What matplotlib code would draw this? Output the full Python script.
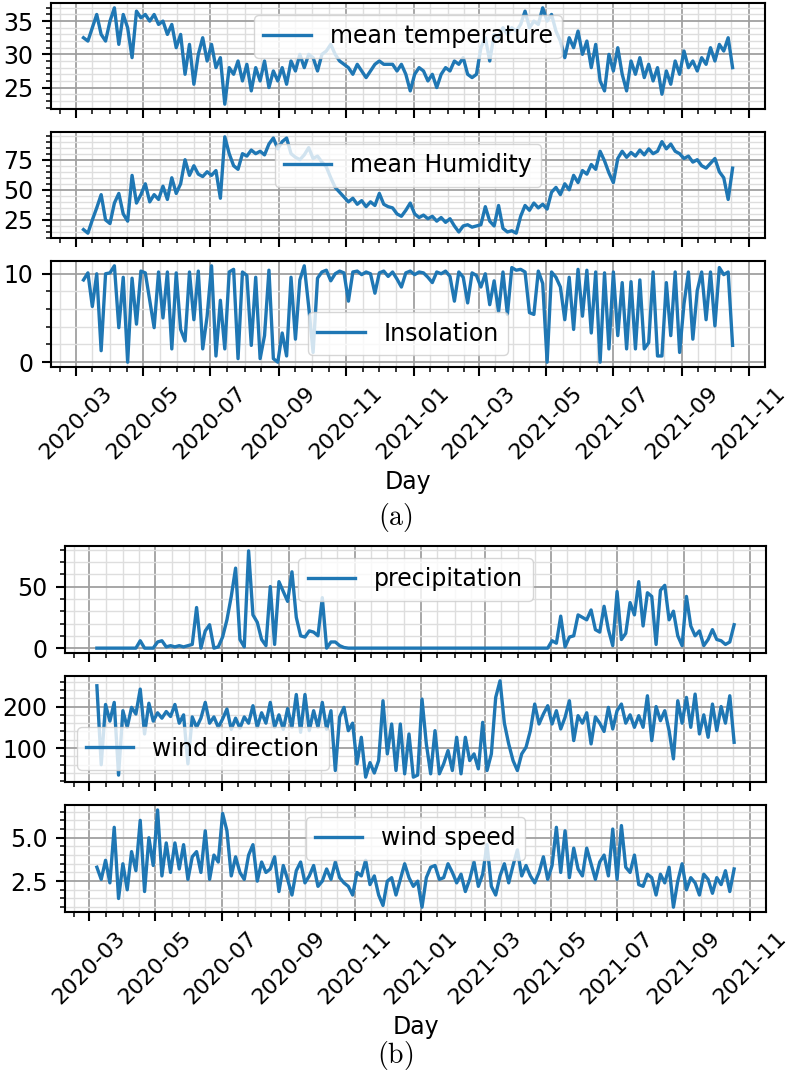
import matplotlib
matplotlib.use('Agg')
import matplotlib.pyplot as plt
import matplotlib.dates as mdates
from matplotlib.ticker import MultipleLocator, AutoMinorLocator
import pandas as pd

# values, one every 4 days from 2020-03-08
days = pd.date_range('2020-03-08', periods=148, freq='4D')

mean_temperature = [
    32.5, 32, 34, 36, 33, 32, 35, 37, 31.5, 36,
    34, 29.5, 36.5, 35.5, 36, 35, 36, 34.5, 35, 33,
    34.5, 31, 33, 27, 31.5, 25.5, 30, 32.5, 29, 31.5,
    28, 29.5, 22.5, 28, 27, 29, 26, 28.5, 24.5, 28,
    26, 29, 25, 27.5, 26, 28, 25.5, 29, 27.5, 30,
    28, 30, 29.5, 27.5, 30, 30.5, 31.5, 30, 29, 28.5,
    28, 27, 28.5, 27.5, 26.5, 27.5, 28.5, 29, 28.5, 28.5,
    28.5, 27.5, 28.5, 27, 24.5, 27, 28, 27.5, 26, 27,
    25, 27, 28, 27.5, 29, 28.5, 29.5, 27, 26.5, 27,
    31, 32.5, 29, 33, 32.5, 34, 33, 34, 33.5, 34.5,
    36.5, 34, 35, 34.5, 37, 35, 36, 33.5, 32, 29.5,
    32.5, 31, 33.5, 30, 32, 28, 31.5, 26, 24.5, 30,
    27.5, 31, 27, 24.5, 29, 27, 29.5, 26.5, 28.5, 26,
    28, 24, 27.5, 25.5, 29, 27, 30.5, 28, 29, 27.5,
    29.5, 28.5, 31, 29, 31.5, 30.5, 32.5, 28]

mean_humidity = [
    17, 14, 25, 35, 46, 25, 22, 39, 47, 30,
    24, 62, 39, 46, 55, 40, 46, 42, 53, 42,
    60, 47, 55, 75, 62, 70, 63, 61, 65, 62,
    66, 43, 94, 80, 70, 67, 80, 78, 83, 80,
    82, 79, 88, 93, 84, 90, 93, 80, 77, 75,
    79, 85, 76, 78, 73, 69, 60, 52, 48, 44,
    40, 43, 38, 41, 36, 40, 37, 47, 38, 36,
    35, 30, 28, 33, 39, 30, 27, 29, 26, 28,
    24, 27, 23, 26, 20, 15, 20, 21, 19, 20,
    21, 36, 24, 20, 37, 18, 15, 16, 14, 28,
    37, 33, 39, 35, 38, 34, 48, 52, 46, 55,
    50, 62, 56, 66, 63, 71, 67, 82, 74, 64,
    56, 76, 82, 77, 81, 78, 83, 79, 84, 80,
    82, 90, 84, 88, 82, 80, 76, 78, 73, 75,
    70, 68, 72, 76, 65, 60, 42, 68]

insolation = [
    9.3, 10.1, 6.3, 10, 1.3, 10, 10.1, 10.9, 3.9, 9.6,
    0, 9.5, 4.3, 10.3, 10.1, 7, 3.9, 10.2, 5, 10.2,
    1.5, 10.1, 3.7, 2.4, 10.2, 4.8, 10.3, 1.5, 5.2, 10.9,
    0.7, 7, 1.5, 10.2, 10.5, 0.4, 10.2, 9.8, 1.9, 9.6,
    0.4, 3, 10.4, 0.4, 0, 3.3, 0.7, 9.6, 2.6, 9.3,
    10.9, 6.3, 1.1, 9.5, 10.2, 10.4, 9.2, 10, 10.3, 10.1,
    6.9, 10.2, 10.3, 9.9, 10.2, 10, 7.8, 10.1, 10.3, 9.7,
    10.2, 9.4, 8.5, 10.1, 10.3, 9.9, 10.2, 10.1, 9.6, 9,
    10.2, 10, 10.3, 9.7, 6.9, 10.2, 9.6, 6.7, 10.1, 9.8,
    8.5, 10, 6.5, 9.2, 5.7, 10.2, 5.4, 10.7, 10.4, 10.5,
    10.2, 5.6, 5.4, 10.3, 8.9, 0, 10.2, 9.6, 8.5, 4.8,
    9.6, 3.7, 10.5, 5.2, 10.4, 3.3, 10.2, 0, 10.1, 1.5,
    10.2, 3, 9, 1.5, 9.1, 1.5, 9.3, 1.5, 2.2, 10.2,
    0.7, 0.7, 9, 3, 10.2, 1.1, 6.6, 10.2, 2.6, 8.1,
    10.2, 4.8, 10.2, 4.1, 10.7, 9.9, 10.2, 1.9]

precipitation = [
    0, 0, 0, 0, 0, 0, 0, 0, 0, 0,
    6, 0, 0, 0, 5, 6, 1, 2, 1, 2,
    1, 2, 3, 33, 0, 14, 19, 0, 1, 9,
    23, 42, 65, 7, 1, 79, 27, 21, 7, 2,
    50, 3, 54, 46, 38, 62, 25, 10, 9, 14,
    13, 10, 41, 0, 5, 5, 2, 0.5, 0, 0,
    0, 0, 0, 0, 0, 0, 0, 0, 0, 0,
    0, 0, 0, 0, 0, 0, 0, 0, 0, 0,
    0, 0, 0, 0, 0, 0, 0, 0, 0, 0,
    0, 0, 0, 0, 0, 0, 0, 0, 0, 0,
    0, 0, 0, 0, 0, 6, 4, 26, 1, 9,
    10, 27, 25, 23, 31, 15, 13, 34, 15, 2,
    46, 7, 12, 37, 27, 54, 18, 45, 42, 3,
    47, 51, 23, 30, 10, 2, 42, 18, 10, 14,
    2, 7, 15, 7, 6, 3, 5, 19]

wind_direction = [
    250, 60, 205, 165, 210, 35, 190, 150, 198, 182,
    242, 134, 208, 165, 185, 172, 188, 176, 205, 160,
    180, 62, 175, 150, 172, 210, 160, 175, 150, 170,
    194, 145, 172, 148, 175, 160, 202, 150, 185, 160,
    210, 150, 180, 145, 195, 150, 229, 138, 229, 142,
    190, 150, 210, 145, 190, 46, 175, 198, 142, 160,
    62, 126, 30, 65, 40, 70, 214, 86, 158, 46,
    158, 38, 134, 30, 35, 218, 110, 38, 142, 38,
    62, 94, 46, 126, 38, 126, 70, 86, 50, 162,
    46, 86, 222, 262, 160, 110, 70, 46, 86, 102,
    142, 206, 158, 182, 202, 158, 190, 146, 174, 214,
    118, 178, 160, 185, 110, 175, 160, 140, 198, 146,
    190, 206, 160, 180, 150, 178, 150, 226, 118, 200,
    166, 190, 142, 74, 214, 160, 222, 150, 230, 134,
    180, 126, 206, 142, 200, 160, 226, 114]

wind_speed = [
    3.3, 2.6, 3.7, 2.4, 5.6, 1.5, 3.5, 2.0, 4.2, 3.1,
    6.0, 1.9, 5.0, 3.4, 6.6, 2.8, 4.7, 3.0, 4.7, 3.2,
    4.6, 2.6, 3.9, 4.2, 3.0, 5.4, 2.6, 4.0, 3.6, 6.4,
    5.4, 2.8, 3.9, 3.0, 2.6, 4.0, 4.6, 2.5, 3.6, 3.0,
    3.2, 3.9, 1.9, 3.4, 2.6, 1.7, 3.1, 3.6, 2.4, 2.8,
    3.4, 2.2, 2.5, 3.2, 2.6, 3.6, 2.7, 2.4, 2.2, 1.7,
    3.0, 2.8, 3.7, 2.3, 2.8, 1.7, 1.1, 2.5, 2.7, 1.7,
    2.6, 3.5, 2.7, 2.2, 2.5, 1.0, 2.7, 3.3, 3.4, 2.6,
    2.7, 3.5, 3.0, 2.4, 2.9, 1.9, 2.6, 3.6, 2.2, 2.9,
    4.6, 2.2, 1.7, 2.8, 3.5, 2.4, 3.4, 4.3, 2.8, 3.4,
    2.8, 2.4, 3.0, 3.9, 2.6, 3.4, 5.6, 3.0, 5.4, 2.7,
    4.4, 3.2, 2.8, 4.4, 3.5, 2.6, 3.6, 4.0, 2.8, 5.5,
    2.6, 5.7, 3.3, 3.0, 4.0, 2.3, 2.2, 2.9, 2.7, 1.7,
    2.9, 2.4, 3.3, 1.0, 2.5, 3.5, 2.0, 2.7, 2.4, 1.7,
    2.9, 2.6, 1.8, 2.7, 2.3, 3.1, 1.9, 3.2]

plt.rcParams.update({
    'font.size': 17,
    'xtick.labelsize': 16,
    'axes.linewidth': 1.5,
    'xtick.major.size': 6.5, 'ytick.major.size': 6.5,
    'xtick.minor.size': 3.7, 'ytick.minor.size': 3.7,
    'xtick.major.width': 1.5, 'ytick.major.width': 1.5,
    'xtick.minor.width': 1.1, 'ytick.minor.width': 1.1,
    'xtick.major.pad': 5, 'ytick.major.pad': 6,
    'mathtext.fontset': 'cm',
})

fig = plt.figure(figsize=(7.9, 10.74), dpi=100)


def panel(rect, values, label, step, loc, last):
    ax = fig.add_axes(rect)
    ax.plot(days, values, color='#1f77b4', lw=2.4, label=label)
    ax.yaxis.set_major_locator(MultipleLocator(step))
    ax.yaxis.set_minor_locator(AutoMinorLocator())
    ax.xaxis.set_major_locator(mdates.MonthLocator(bymonth=range(1, 13, 2)))
    ax.xaxis.set_minor_locator(mdates.DayLocator(bymonthday=[1, 16]))
    ax.xaxis.set_major_formatter(mdates.DateFormatter('%Y-%m'))
    ax.grid(which='major', color='#a0a0a0', lw=1.3)
    ax.grid(which='minor', color='#dedede', lw=1.0)
    ax.legend(loc=loc)
    if last:
        plt.setp(ax.get_xticklabels(), rotation=45)
        ax.set_xlabel('Day', labelpad=5)
    else:
        ax.tick_params(labelbottom=False)
    return ax


# top group (a)
panel([0.0646, 0.8985, 0.9038, 0.0987], mean_temperature, 'mean temperature', 5, 'upper center', False)
panel([0.0646, 0.7784, 0.9038, 0.0987], mean_humidity, 'mean Humidity', 25, 'upper center', False)
panel([0.0646, 0.6583, 0.9038, 0.0987], insolation, 'Insolation', 10, 'lower center', True)
fig.text(0.5, 1 - 518 / 1074, r'$\mathrm{(a)}$', ha='center', va='center', fontsize=20)

# bottom group (b)
panel([0.0823, 0.3920, 0.8873, 0.0996], precipitation, 'precipitation', 50, 'upper center', False)
panel([0.0823, 0.2719, 0.8873, 0.0987], wind_direction, 'wind direction', 100, 'lower left', False)
panel([0.0823, 0.1508, 0.8873, 0.0996], wind_speed, 'wind speed', 2.5, 'upper center', True)
fig.text(0.5, 1 - 1055 / 1074, r'$\mathrm{(b)}$', ha='center', va='center', fontsize=20)

fig.savefig('out.png', dpi=100)
